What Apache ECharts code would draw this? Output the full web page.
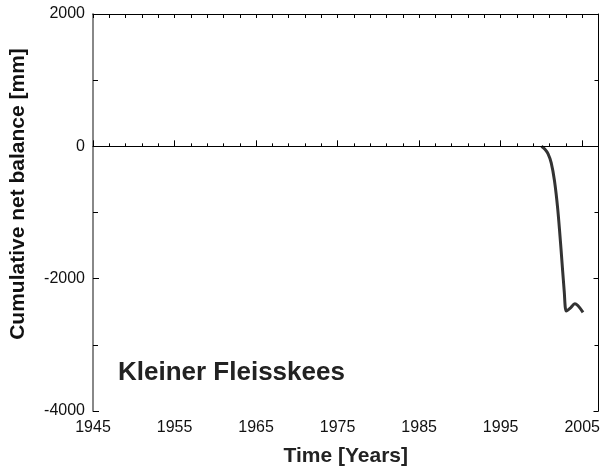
<!DOCTYPE html>
<html>
<head>
<meta charset="utf-8">
<script src="https://cdn.jsdelivr.net/npm/echarts@6/dist/echarts.min.js"></script>
<style>
  html, body { margin: 0; padding: 0; background: #fff; }
  #chart { width: 603px; height: 472px; }
</style>
</head>
<body>
<div id="chart"></div>
<script>
// values
const years = [2000.0, 2000.4, 2000.8, 2001.2, 2001.6, 2002.0, 2002.4, 2002.8, 2003.05, 2003.5, 2004.1, 2005.1];
const balance = [0, -40, -110, -250, -520, -950, -1550, -2200, -2490, -2450, -2380, -2510];
const majorYears = [1945, 1955, 1965, 1975, 1985, 1995, 2005];
const minorYears = [1947, 1949, 1951, 1953, 1957, 1959, 1961, 1963, 1967, 1969, 1971, 1973, 1977, 1979, 1981, 1983, 1987, 1989, 1991, 1993, 1997, 1999, 2001, 2003];
const allTickYears = majorYears.concat(minorYears);
const glacierName = 'Kleiner Fleisskees';
const yTitle = 'Cumulative net balance [mm]';

const chart = echarts.init(document.getElementById('chart'));
const font = 'Liberation Sans, Arial, sans-serif';

const plain = function (v) { return String(v); };

const option = {
  animation: false,
  grid: { left: 93, right: 3, top: 14, bottom: 61 },
  xAxis: [
    {
      type: 'value',
      position: 'bottom',
      min: 1945,
      max: 2007,
      name: 'Time [Years]',
      nameLocation: 'middle',
      nameGap: 35,
      nameTextStyle: { fontFamily: font, fontWeight: 'bold', fontSize: 21, color: '#222' },
      axisLine: { lineStyle: { color: '#000', width: 1 } },
      axisTick: { inside: true, length: 6, customValues: majorYears, lineStyle: { color: '#000' } },
      axisLabel: { customValues: majorYears, margin: 9, fontFamily: font, fontSize: 16, color: '#111', formatter: plain },
      splitLine: { show: false }
    },
    {
      type: 'value',
      position: 'bottom',
      min: 1945,
      max: 2007,
      axisLine: { show: false },
      axisTick: { inside: true, length: 3, customValues: minorYears, lineStyle: { color: '#000' } },
      axisLabel: { show: false },
      splitLine: { show: false }
    },
    {
      type: 'value',
      position: 'top',
      min: 1945,
      max: 2007,
      axisLine: { lineStyle: { color: '#000', width: 1 } },
      axisTick: { inside: true, length: 4, customValues: allTickYears, lineStyle: { color: '#000' } },
      axisLabel: { show: false },
      splitLine: { show: false }
    }
  ],
  yAxis: [
    {
      type: 'value',
      position: 'left',
      min: -4000,
      max: 2000,
      interval: 2000,
      axisLine: { lineStyle: { color: '#888', width: 2 } },
      axisTick: { inside: true, length: 6, lineStyle: { color: '#000' } },
      minorTick: { show: true, splitNumber: 2, length: 5, lineStyle: { color: '#000' } },
      axisLabel: { margin: 8, fontFamily: font, fontSize: 16, color: '#111', formatter: plain },
      splitLine: { show: false }
    },
    {
      type: 'value',
      position: 'right',
      min: -4000,
      max: 2000,
      interval: 2000,
      axisLine: { lineStyle: { color: '#000', width: 1 } },
      axisTick: { inside: true, length: 5, lineStyle: { color: '#000' } },
      minorTick: { show: true, splitNumber: 2, length: 4, lineStyle: { color: '#000' } },
      axisLabel: { show: false },
      splitLine: { show: false }
    }
  ],
  graphic: [
    {
      type: 'text',
      left: 118,
      top: 360,
      style: { text: glacierName, fontFamily: font, fontWeight: 'bold', fontSize: 26, fill: '#222' }
    },
    {
      type: 'text',
      x: 18,
      y: 194,
      rotation: Math.PI / 2,
      style: {
        text: yTitle, fontFamily: font, fontWeight: 'bold', fontSize: 21, fill: '#111',
        align: 'center', verticalAlign: 'middle'
      }
    }
  ],
  series: [
    {
      type: 'line',
      xAxisIndex: 0,
      yAxisIndex: 0,
      data: years.map(function (y, i) { return [y, balance[i]]; }),
      showSymbol: false,
      smooth: 0.3,
      lineStyle: { color: '#333', width: 3 },
      markLine: {
        silent: true,
        symbol: 'none',
        label: { show: false },
        lineStyle: { color: '#000', width: 1, type: 'solid' },
        data: [{ yAxis: 0 }]
      }
    }
  ]
};

chart.setOption(option);
</script>
</body>
</html>
